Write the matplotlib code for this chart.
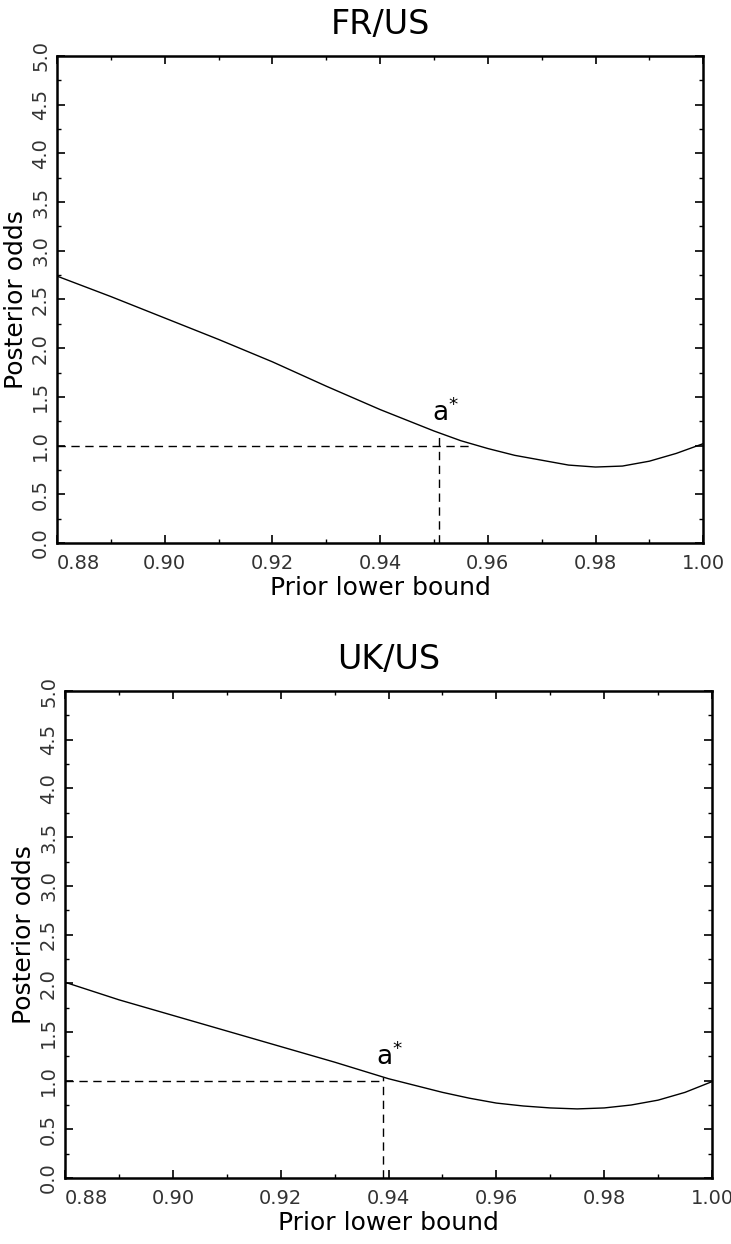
import numpy as np
import matplotlib
matplotlib.use('Agg')
from matplotlib import pyplot as plt
from matplotlib.ticker import MultipleLocator

# prior lower bound grid
prior = [0.88, 0.89, 0.90, 0.91, 0.92, 0.93, 0.94, 0.95, 0.955, 0.96,
         0.965, 0.97, 0.975, 0.98, 0.985, 0.99, 0.995, 1.00]

# posterior odds
fr_us = [2.74, 2.53, 2.31, 2.09, 1.86, 1.61, 1.37, 1.15, 1.05, 0.97,
         0.90, 0.85, 0.80, 0.78, 0.79, 0.84, 0.92, 1.02]
uk_us = [2.01, 1.83, 1.67, 1.51, 1.35, 1.19, 1.02, 0.88, 0.82, 0.77,
         0.74, 0.72, 0.71, 0.72, 0.75, 0.80, 0.88, 0.99]

# a* (critical prior bound) and where the odds=1 guide stops
fr_astar, fr_hend = 0.951, 0.957
uk_astar, uk_hend = 0.939, 0.939

xticks = [0.88, 0.90, 0.92, 0.94, 0.96, 0.98, 1.00]
yticks = [0.0, 0.5, 1.0, 1.5, 2.0, 2.5, 3.0, 3.5, 4.0, 4.5, 5.0]


def panel(ax, title, odds, astar, hend):
    ax.plot(prior, odds, color='black', lw=1.0)
    ya = np.interp(astar, prior, odds)
    ax.plot([0.88, hend], [1.0, 1.0], color='black', lw=1.0, dashes=(6, 4))
    ax.plot([astar, astar], [0.0, ya], color='black', lw=1.0, dashes=(6, 4))
    ax.text(astar + 0.0012, ya + 0.06, 'a$^{*}$', fontsize=19, ha='center', va='bottom')

    ax.set_xlim(0.88, 1.00)
    ax.set_ylim(0, 5)
    ax.set_xticks(xticks)
    ax.set_xticklabels(['%.2f' % v for v in xticks])
    ax.set_yticks(yticks)
    ax.set_yticklabels(['%.1f' % v for v in yticks])
    ax.xaxis.set_minor_locator(MultipleLocator(0.01))
    ax.yaxis.set_minor_locator(MultipleLocator(0.25))
    ax.tick_params(which='both', direction='in', top=True, right=True)
    ax.tick_params(which='major', length=6, width=1.2)
    ax.tick_params(which='minor', length=3, width=1.0)
    ax.tick_params(axis='x', labelsize=14, labelcolor='#333333', pad=8)
    ax.tick_params(axis='y', labelsize=14, labelcolor='#333333', pad=5, labelrotation=90)
    for lbl in ax.get_yticklabels():
        lbl.set_va('center')
    ax.get_xticklabels()[0].set_ha('left')
    for s in ax.spines.values():
        s.set_linewidth(1.8)

    ax.set_title(title, fontsize=24, pad=16)
    ax.set_xlabel('Prior lower bound', fontsize=18, labelpad=2)
    ax.set_ylabel('Posterior odds', fontsize=18, labelpad=2)


fig = plt.figure(figsize=(7.31, 12.44), dpi=100)
ax1 = fig.add_axes([0.078, 0.5635, 0.884, 0.3915])
ax2 = fig.add_axes([0.089, 0.053, 0.885, 0.3915])

panel(ax1, 'FR/US', fr_us, fr_astar, fr_hend)
panel(ax2, 'UK/US', uk_us, uk_astar, uk_hend)

fig.savefig('out.png', dpi=100)
